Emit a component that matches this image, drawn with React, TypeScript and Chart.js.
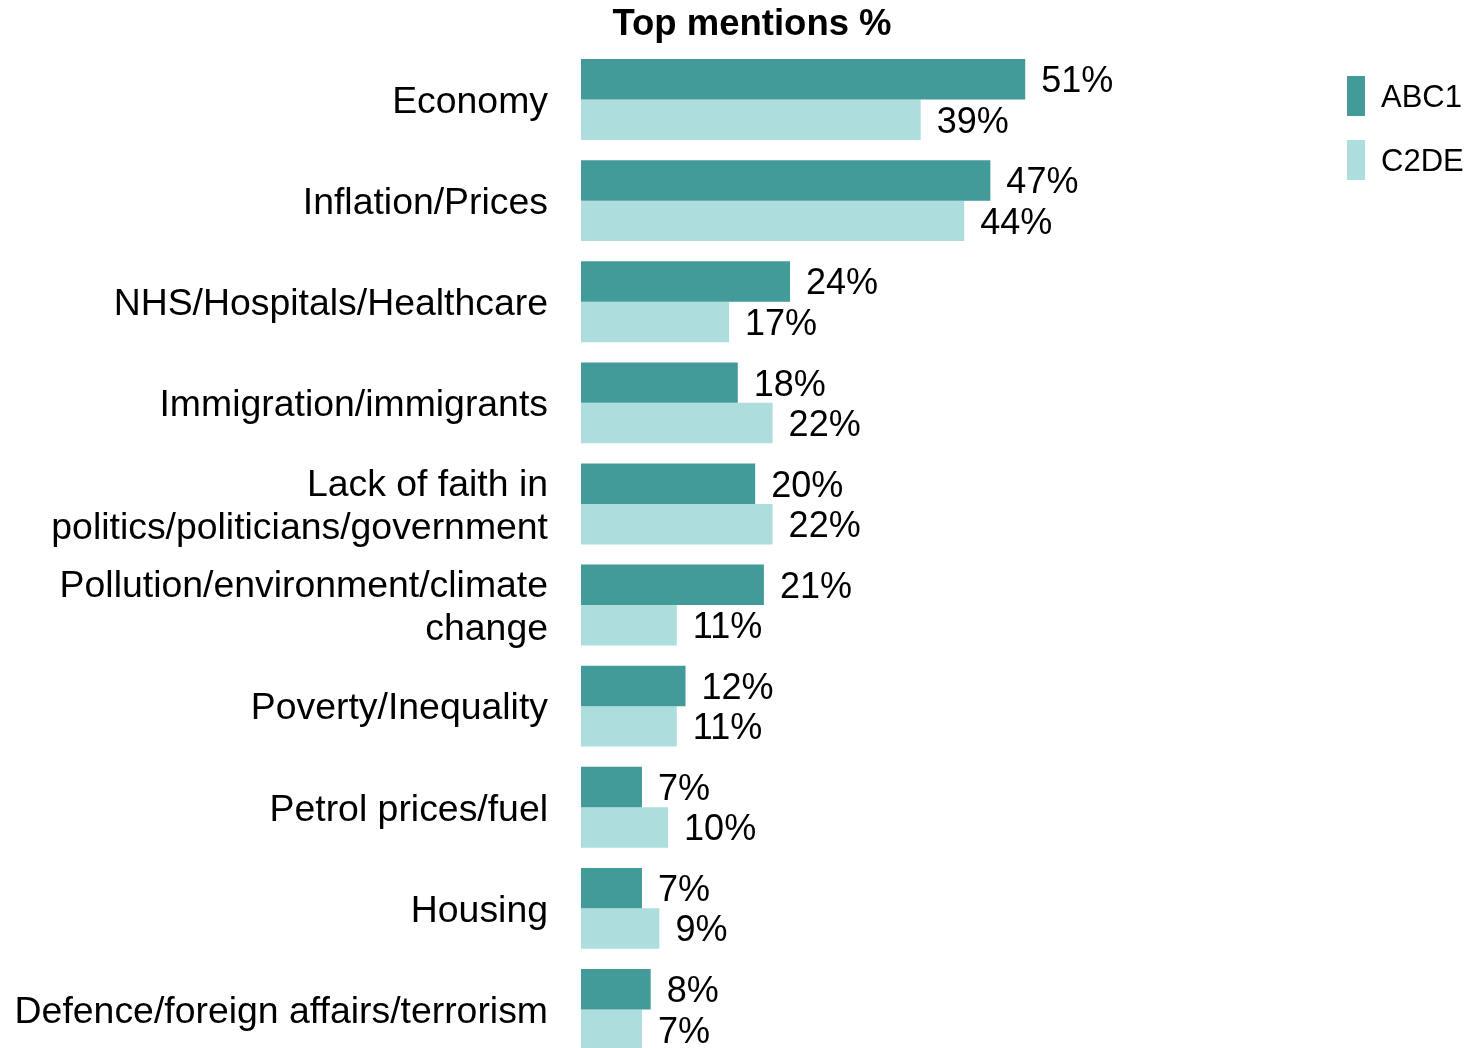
import React, { useEffect, useRef } from "react";
import { Chart, registerables } from "chart.js";

Chart.register(...registerables);

const categories: string[][] = [
  ["Economy"],
  ["Inflation/Prices"],
  ["NHS/Hospitals/Healthcare"],
  ["Immigration/immigrants"],
  ["Lack of faith in", "politics/politicians/government"],
  ["Pollution/environment/climate", "change"],
  ["Poverty/Inequality"],
  ["Petrol prices/fuel"],
  ["Housing"],
  ["Defence/foreign affairs/terrorism"],
];
const abc1Values = [51, 47, 24, 18, 20, 21, 12, 7, 7, 8];
const c2deValues = [39, 44, 17, 22, 22, 11, 11, 10, 9, 7];
const seriesNames = ["ABC1", "C2DE"];
const seriesColors = ["#429A99", "#AEDDDE"];
const chartTitle = "Top mentions %";

const FONT = '"Liberation Sans", Arial, sans-serif';

const customDraw = {
  id: "customDraw",
  afterDraw(chart: any) {
    const ctx = chart.ctx;
    const yScale = chart.scales.y;
    ctx.save();
    ctx.fillStyle = "#000";
    // title
    ctx.font = `bold 36.5px ${FONT}`;
    ctx.textAlign = "center";
    ctx.textBaseline = "middle";
    ctx.fillText(chartTitle, 752, 24.5);
    // category labels
    ctx.font = `37.4px ${FONT}`;
    ctx.textAlign = "right";
    categories.forEach((lines, i) => {
      const cy = yScale.getPixelForValue(i);
      const lh = 43;
      const start = cy - ((lines.length - 1) * lh) / 2;
      lines.forEach((ln, j) => {
        ctx.fillText(ln, 548, start + j * lh + 3);
      });
    });
    // data labels
    ctx.font = `36px ${FONT}`;
    ctx.textAlign = "left";
    chart.data.datasets.forEach((ds: any, di: number) => {
      const meta = chart.getDatasetMeta(di);
      meta.data.forEach((bar: any, i: number) => {
        ctx.fillText(ds.data[i] + "%", bar.x + 16, bar.y + 3);
      });
    });
    // legend
    ctx.font = `31px ${FONT}`;
    seriesNames.forEach((name, i) => {
      const top = 76 + i * 64;
      ctx.fillStyle = seriesColors[i];
      ctx.fillRect(1347, top, 18, 40);
      ctx.fillStyle = "#000";
      ctx.fillText(name, 1381, top + 22);
    });
    ctx.restore();
  },
};

export default function App() {
  const ref = useRef<HTMLCanvasElement | null>(null);
  useEffect(() => {
    if (!ref.current) return;
    const chart = new Chart(ref.current, {
      type: "bar",
      data: {
        labels: categories.map((c) => c.join(" ")),
        datasets: [
          {
            label: seriesNames[0],
            data: abc1Values,
            backgroundColor: seriesColors[0],
            categoryPercentage: 0.8,
            barPercentage: 1.0,
          },
          {
            label: seriesNames[1],
            data: c2deValues,
            backgroundColor: seriesColors[1],
            categoryPercentage: 0.8,
            barPercentage: 1.0,
          },
        ],
      },
      options: {
        indexAxis: "y",
        responsive: false,
        animation: false,
        devicePixelRatio: 1,
        layout: { padding: { left: 581, right: 29, top: 49, bottom: 2 } },
        plugins: {
          legend: { display: false },
          title: { display: false },
          tooltip: { enabled: false },
        },
        scales: {
          x: { display: false, min: 0, max: 100 },
          y: { display: false },
        },
      },
      plugins: [customDraw],
    } as any);
    return () => chart.destroy();
  }, []);
  return (
    <div
      style={{
        position: "fixed",
        left: 0,
        top: 0,
        width: 1481,
        height: 1048,
        overflow: "hidden",
        background: "#fff",
      }}
    >
      <canvas ref={ref} width={1481} height={1062} style={{ display: "block", width: 1481, height: 1062 }} />
    </div>
  );
}
